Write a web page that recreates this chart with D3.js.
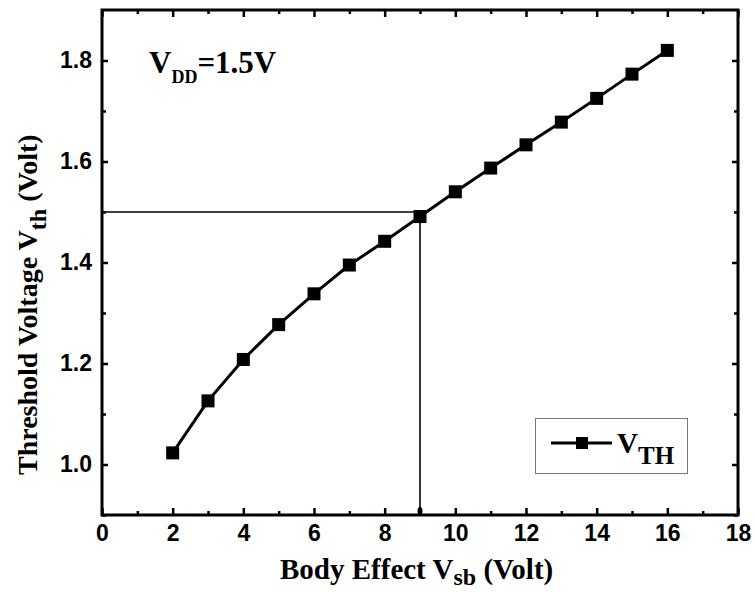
<!DOCTYPE html>
<html>
<head>
<meta charset="utf-8">
<script src="https://cdn.jsdelivr.net/npm/d3@7"></script>
<style>
  body { margin: 0; background: #fff; }
  svg { display: block; }
  .tick text { font-family: "Liberation Sans", Arial, sans-serif; font-size: 23px; font-weight: bold; fill: #000; }
  .ttl { font-family: "Liberation Serif", "Times New Roman", serif; font-weight: bold; fill: #000; }
</style>
</head>
<body>
<div id="vis"></div>
<script>
var width = 755,
	height = 592;

var margin = {top: 10, right: 17, bottom: 77, left: 102};

// data
var vsb = [2, 3, 4, 5, 6, 7, 8, 9, 10, 11, 12, 13, 14, 15, 16];
var vth = [1.023, 1.126, 1.208, 1.277, 1.338, 1.395, 1.442, 1.491, 1.540, 1.587, 1.633, 1.678, 1.725, 1.773, 1.820];
var xMajor = [0, 2, 4, 6, 8, 10, 12, 14, 16, 18];
var xMinor = [1, 3, 5, 7, 9, 11, 13, 15, 17];
var yMajor = [1.0, 1.2, 1.4, 1.6, 1.8];
var yMinor = [0.9, 1.1, 1.3, 1.5, 1.7];
var refX = 9, refY = 1.5;

var x = d3.scaleLinear().domain([0, 18]).range([margin.left, width - margin.right]),
	y = d3.scaleLinear().domain([0.9, 1.9]).range([height - margin.bottom, margin.top]);

var svg = d3.select('#vis')
	.append('svg')
	.attr('width', width)
	.attr('height', height);

var x0 = x.range()[0], x1 = x.range()[1],
	y0 = y.range()[0], y1 = y.range()[1];

// axes, ticks pointing inward
function tickAxis(axis, vals, size, fmt) {
	return axis.tickValues(vals).tickSizeInner(size).tickSizeOuter(0).tickPadding(9).tickFormat(fmt);
}
var fmtY = d3.format('.1f');

var gB = svg.append('g').attr('transform', 'translate(0,' + y0 + ')');
gB.call(tickAxis(d3.axisBottom(x), xMajor, -7, d3.format('d')));
gB.append('g').call(tickAxis(d3.axisBottom(x), xMinor, -4, ''));

var gT = svg.append('g').attr('transform', 'translate(0,' + y1 + ')');
gT.call(tickAxis(d3.axisTop(x), xMajor, -7, ''));
gT.append('g').call(tickAxis(d3.axisTop(x), xMinor, -4, ''));

var gL = svg.append('g').attr('transform', 'translate(' + x0 + ',0)');
gL.call(tickAxis(d3.axisLeft(y), yMajor, -6, fmtY));
gL.append('g').call(tickAxis(d3.axisLeft(y), yMinor, -4, ''));

var gR = svg.append('g').attr('transform', 'translate(' + x1 + ',0)');
gR.call(tickAxis(d3.axisRight(y), yMajor, -6, ''));
gR.append('g').call(tickAxis(d3.axisRight(y), yMinor, -4, ''));

svg.selectAll('.domain').remove();
svg.selectAll('.tick line').attr('stroke', '#000').attr('stroke-width', 2.5);
gB.selectAll('.tick text').attr('dy', '0.75em');
gL.selectAll('.tick text').attr('dx', '-1');

svg.append('rect')
	.attr('x', x0).attr('y', y1)
	.attr('width', x1 - x0).attr('height', y0 - y1)
	.attr('fill', 'none')
	.attr('stroke', '#000')
	.attr('stroke-width', 3);

// reference lines at Vth = 1.5 V
svg.append('line')
	.attr('x1', x(0)).attr('x2', x(refX))
	.attr('y1', y(refY)).attr('y2', y(refY))
	.attr('stroke', '#000').attr('stroke-width', 1.6);
svg.append('line')
	.attr('x1', x(refX)).attr('x2', x(refX))
	.attr('y1', y(refY)).attr('y2', y0)
	.attr('stroke', '#000').attr('stroke-width', 1.6);
svg.append('ellipse')
	.attr('cx', x(refX)).attr('cy', y0 - 4)
	.attr('rx', 2.5).attr('ry', 4)
	.attr('fill', '#000');

// curve
var pts = vsb.map(function(d, i) { return [d, vth[i]]; });
var line = d3.line()
	.x(function(d) { return x(d[0]); })
	.y(function(d) { return y(d[1]); });

svg.append('path')
	.datum(pts)
	.attr('d', line)
	.attr('fill', 'none')
	.attr('stroke', '#000')
	.attr('stroke-width', 3);

var ms = 13;
svg.selectAll('rect.mk')
	.data(pts)
	.enter()
	.append('rect')
	.attr('class', 'mk')
	.attr('x', function(d) { return x(d[0]) - ms / 2; })
	.attr('y', function(d) { return y(d[1]) - ms / 2; })
	.attr('width', ms).attr('height', ms)
	.attr('fill', '#000');

// V_DD label
var vdd = svg.append('text').attr('class', 'ttl')
	.attr('x', 149).attr('y', 73)
	.style('font-size', '31px');
vdd.append('tspan').text('V');
vdd.append('tspan').attr('dy', 10).style('font-size', '18px').text('DD');
vdd.append('tspan').attr('dy', -10).text('=1.5V');

// legend
var lg = svg.append('g');
lg.append('rect')
	.attr('x', 535.5).attr('y', 418.5)
	.attr('width', 152).attr('height', 55)
	.attr('fill', '#fff')
	.attr('stroke', '#777').attr('stroke-width', 1);
lg.append('line')
	.attr('x1', 551).attr('x2', 612)
	.attr('y1', 443).attr('y2', 443)
	.attr('stroke', '#000').attr('stroke-width', 3);
lg.append('rect')
	.attr('x', 582 - 6).attr('y', 443 - 6)
	.attr('width', 12).attr('height', 12)
	.attr('fill', '#000');
var lt = lg.append('text').attr('class', 'ttl')
	.attr('x', 617).attr('y', 453)
	.style('font-size', '29px');
lt.append('tspan').text('V');
lt.append('tspan').attr('dy', 11).style('font-size', '25px').text('TH');

// axis titles
var xt = svg.append('text').attr('class', 'ttl')
	.attr('x', 280).attr('y', 579)
	.style('font-size', '29px');
xt.append('tspan').text('Body Effect V');
xt.append('tspan').attr('dy', 6).style('font-size', '24px').text('sb');
xt.append('tspan').attr('dy', -6).text(' (Volt)');

var yt = svg.append('text').attr('class', 'ttl')
	.attr('transform', 'translate(37,475) rotate(-90)')
	.style('font-size', '28px');
yt.append('tspan').text('Threshold Voltage V');
yt.append('tspan').attr('dy', 9).style('font-size', '24px').text('th');
yt.append('tspan').attr('dy', -9).text(' (Volt)');
</script>
</body>
</html>
